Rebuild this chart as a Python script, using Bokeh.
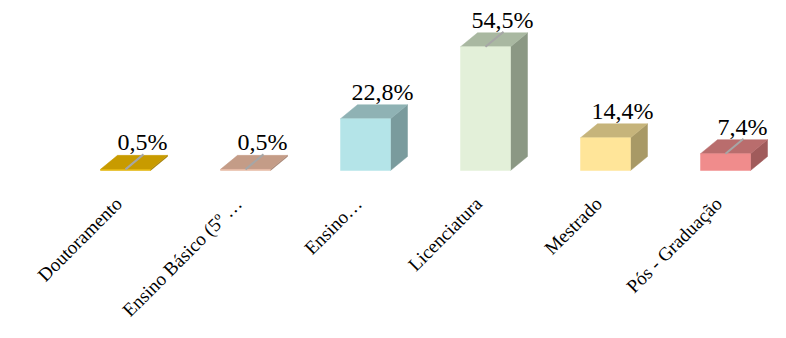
import math
from bokeh.plotting import figure
from bokeh.models import Range1d, ColumnDataSource
from bokeh.embed import file_html
from bokeh.resources import INLINE
from bokeh.core.properties import value

# ---- data ----
categories = ["Doutoramento", "Ensino Básico (5º …", "Ensino…", "Licenciatura", "Mestrado", "Pós - Graduação"]
percent = [0.5, 0.5, 22.8, 54.5, 14.4, 7.4]
value_labels = ["0,5%", "0,5%", "22,8%", "54,5%", "14,4%", "7,4%"]
front_colors = ["#E2B200", "#E6B9A2", "#B4E4E8", "#E3F0D9", "#FFE599", "#F08C8C"]
top_colors = ["#C89B00", "#C49C87", "#8FB2B4", "#A9B8A1", "#C6B47B", "#B96D6D"]
side_colors = ["#9C7900", "#A07F6E", "#7A9B9D", "#8B9884", "#A89966", "#A05B5B"]
has_leader = [True, True, False, True, False, True]

# ---- layout constants (pixels) ----
W, H = 770, 322
PX_PER_CAT = 120.0
PX_PER_PCT = 2.27
X0_PX = 125.0          # pixel of first category centre
Y0_PX = 152.0          # pixel (from bottom) of 0 %
BAR_W = 50.0 / PX_PER_CAT
DX = 17.0 / PX_PER_CAT
DY = 14.0 / PX_PER_PCT

idx = list(range(len(categories)))

p = figure(width=W, height=H, output_backend="svg", toolbar_location=None,
           x_range=Range1d(-X0_PX / PX_PER_CAT, (W - X0_PX) / PX_PER_CAT),
           y_range=Range1d(-Y0_PX / PX_PER_PCT, (H - Y0_PX) / PX_PER_PCT),
           x_axis_location=None, y_axis_location=None, min_border=0,
           outline_line_color=None, background_fill_color="white",
           border_fill_color="white")
p.grid.visible = False

left = [i - BAR_W / 2 for i in idx]
right = [i + BAR_W / 2 for i in idx]

top_xs = [[l, r, r + DX, l + DX] for l, r in zip(left, right)]
top_ys = [[v, v, v + DY, v + DY] for v in percent]
side_xs = [[r, r + DX, r + DX, r] for r in right]
side_ys = [[0, DY, v + DY, v] for v in percent]

src = ColumnDataSource(dict(left=left, right=right, top=percent, bottom=[0] * len(idx),
                            front=front_colors, topc=top_colors, side=side_colors,
                            top_xs=top_xs, top_ys=top_ys, side_xs=side_xs, side_ys=side_ys))

p.patches("side_xs", "side_ys", source=src, fill_color="side", line_color="side", line_width=0.5)
p.patches("top_xs", "top_ys", source=src, fill_color="topc", line_color="topc", line_width=0.5)
p.quad(left="left", right="right", top="top", bottom="bottom", source=src,
       fill_color="front", line_color="front", line_width=0.5)

# leader lines
lx0 = [i for i, f in zip(idx, has_leader) if f]
ly0 = [v for v, f in zip(percent, has_leader) if f]
p.segment(x0=lx0, y0=ly0,
          x1=[x + 18.0 / PX_PER_CAT for x in lx0],
          y1=[y + 15.0 / PX_PER_PCT for y in ly0],
          line_color="#A6A6A6", line_width=2)

# value labels
p.text(x=[i + 17.0 / PX_PER_CAT for i in idx],
       y=[v + 27.0 / PX_PER_PCT for v in percent],
       text=value_labels, text_align="center", text_baseline="middle",
       text_font=value("Liberation Serif"), text_font_size="24px", text_color="black")

# category labels
p.text(x=[i - 7.0 / PX_PER_CAT for i in idx],
       y=[-30.0 / PX_PER_PCT] * len(idx),
       text=categories, angle=math.pi / 4, text_align="right", text_baseline="alphabetic",
       text_font=value("Liberation Serif"), text_font_size="19px", text_color="black")

open("out.html", "w").write(file_html(p, INLINE))
